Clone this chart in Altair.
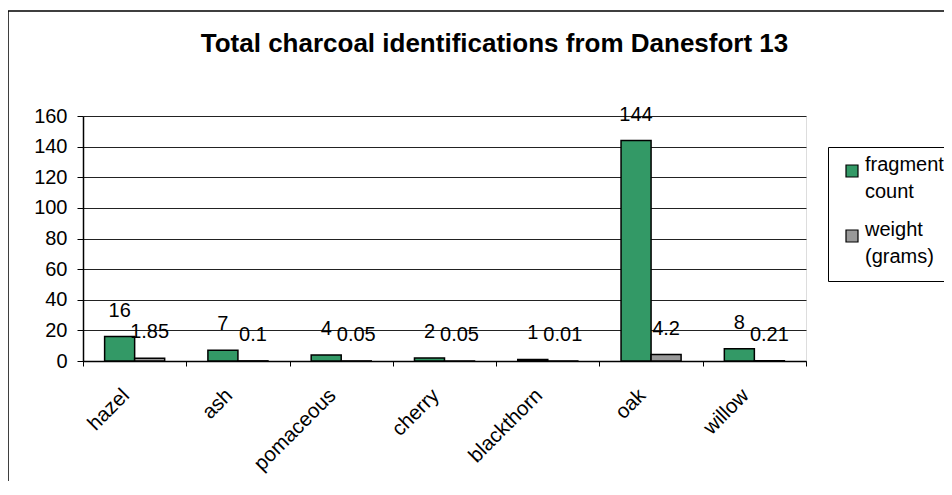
import altair as alt
import pandas as pd

categories = ["hazel", "ash", "pomaceous", "cherry", "blackthorn", "oak", "willow"]
fragment_count = [16, 7, 4, 2, 1, 144, 8]
weight_grams = [1.85, 0.1, 0.05, 0.05, 0.01, 4.2, 0.21]
series = ["fragment count", "weight (grams)"]
colors = ["#339966", "#999999"]
y_ticks = [0, 20, 40, 60, 80, 100, 120, 140, 160]
title_text = "Total charcoal identifications from Danesfort 13"

rows = []
for c, f, w in zip(categories, fragment_count, weight_grams):
    rows.append({"species": c, "series": series[0], "value": f})
    rows.append({"species": c, "series": series[1], "value": w})
df = pd.DataFrame(rows)

FONT = "Liberation Sans"

x_enc = alt.X(
    "species:N", sort=categories, title=None,
    scale=alt.Scale(paddingInner=0, paddingOuter=0),
    axis=alt.Axis(labelAngle=-45, labelAlign="right", labelBaseline="middle",
                  tickBand="extent", labelFontSize=20.5, labelPadding=26,
                  labelOffset=-9, labelColor="black", domainColor="black",
                  domainWidth=1.5, tickColor="black", tickSize=5, grid=False,
                  labelFont=FONT, labelOverlap=False),
)
xoff_enc = alt.XOffset("series:N", sort=series,
                       scale=alt.Scale(paddingInner=0, paddingOuter=0.72))
y_enc = alt.Y(
    "value:Q", title=None,
    scale=alt.Scale(domain=[0, 160], nice=False),
    axis=alt.Axis(values=y_ticks, tickCount=9, labelFontSize=20, tickSize=6,
                  labelPadding=10, labelColor="black", domainColor="black",
                  domainWidth=1.5, tickColor="black", gridColor="#222222",
                  gridWidth=1, labelFont=FONT, labelOverlap=False),
)
color_enc = alt.Color(
    "series:N", sort=series,
    scale=alt.Scale(domain=series, range=colors),
    legend=alt.Legend(
        title=None, orient="none", legendX=745, legendY=31,
        fillColor="white", strokeColor="black", padding=14,
        symbolType="square", symbolSize=144, symbolStrokeColor="black",
        symbolStrokeWidth=1.2, labelFontSize=20, labelFont=FONT,
        labelColor="black", labelExpr="split(datum.label, ' ')",
        labelBaseline="alphabetic", labelLimit=0, labelOffset=3,
        rowPadding=18,
    ),
)

base = alt.Chart(df)
bars = base.mark_bar(stroke="black", strokeWidth=1.5).encode(
    x=x_enc, xOffset=xoff_enc, y=y_enc, color=color_enc
)
labels = base.mark_text(dy=-26, fontSize=20, font=FONT, baseline="middle",
                        color="black").encode(
    x=x_enc,
    xOffset=xoff_enc,
    y=y_enc,
    text=alt.Text("value:Q", format="~g"),
)
frame = alt.Chart(pd.DataFrame({"k": [0]})).mark_rect(
    fill=None, stroke="black", strokeWidth=1.5
).encode(
    x=alt.value(-75), x2=alt.value(900), y=alt.value(-105), y2=alt.value(420)
)

chart = alt.layer(frame, bars, labels).properties(
    width=723, height=245,
    title=alt.TitleParams(title_text, fontSize=26, font=FONT, fontWeight="bold",
                          anchor="middle", dx=50, offset=-47, color="black"),
    autosize=alt.AutoSizeParams(type="none"),
    padding={"left": 75, "top": 108, "right": 138, "bottom": 120},
).configure_view(
    stroke="#808080", strokeWidth=1.5
).configure(
    background="white", style={"guide-label": {"lineHeight": 27}}
)

chart.save("out.html", embed_options={"renderer": "svg", "actions": False})
